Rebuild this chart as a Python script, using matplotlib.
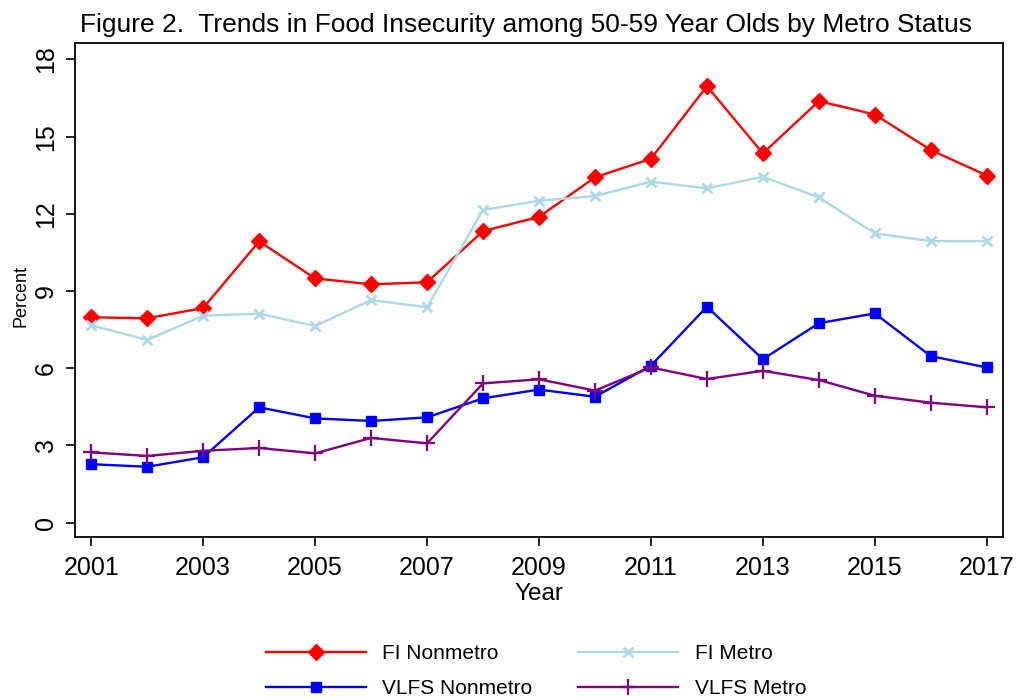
import matplotlib
matplotlib.use("Agg")
import matplotlib.pyplot as plt

plt.rcParams['font.family'] = ['Liberation Sans', 'DejaVu Sans']

years = list(range(2001, 2018))

fi_nonmetro = [7.98, 7.94, 8.34, 10.93, 9.49, 9.26, 9.34, 11.33, 11.88, 13.42,
               14.14, 16.96, 14.35, 16.38, 15.86, 14.48, 13.49]
fi_metro = [7.67, 7.10, 8.04, 8.12, 7.64, 8.65, 8.37, 12.15, 12.51, 12.69,
            13.25, 12.99, 13.44, 12.64, 11.24, 10.94, 10.94]
vlfs_nonmetro = [2.27, 2.17, 2.54, 4.48, 4.05, 3.95, 4.09, 4.83, 5.17, 4.89,
                 6.10, 8.39, 6.35, 7.75, 8.13, 6.47, 6.03]
vlfs_metro = [2.73, 2.59, 2.79, 2.90, 2.69, 3.29, 3.08, 5.41, 5.57, 5.13,
              6.03, 5.58, 5.90, 5.54, 4.93, 4.66, 4.48]

xticks = list(range(2001, 2018, 2))
yticks = [0, 3, 6, 9, 12, 15, 18]

fig = plt.figure(figsize=(10.19, 6.98), dpi=100)
ax = fig.add_axes([75 / 1019, 1 - 537 / 698, 928 / 1019, 494 / 698])

l1, = ax.plot(years, fi_nonmetro, color='red', marker='D', markersize=8, lw=1.7,
              label='FI Nonmetro')
l2, = ax.plot(years, fi_metro, color='#ADD8E6', marker='x', markersize=7, mew=2,
              lw=1.7, label='FI Metro')
l3, = ax.plot(years, vlfs_nonmetro, color='blue', marker='s', markersize=7.5, lw=1.7,
              label='VLFS Nonmetro')
l4, = ax.plot(years, vlfs_metro, color='purple', marker='+', markersize=11, mew=1.6,
              lw=1.7, label='VLFS Metro')

ax.set_xlim(2000.71, 2017.29)
ax.set_ylim(-0.56, 18.64)
ax.set_xticks(xticks)
ax.set_yticks(yticks)
ax.tick_params(axis='both', labelsize=18, length=6.5, width=1.2, direction='out')
ax.tick_params(axis='x', pad=7)
ax.tick_params(axis='y', pad=6)
plt.setp(ax.get_yticklabels(), rotation=90, va='center')
for s in ax.spines.values():
    s.set_linewidth(1.3)

ax.set_xlabel('Year', fontsize=17.5, labelpad=2)
ax.set_ylabel('Percent', fontsize=13, labelpad=3, y=0.488)
ax.set_title('Figure 2.  Trends in Food Insecurity among 50-59 Year Olds by Metro Status',
             fontsize=19, pad=8, x=0.4865)

fig.legend(handles=[l1, l3, l2, l4], ncol=2, loc='center',
           bbox_to_anchor=(536 / 1019, 1 - 671 / 698), frameon=False,
           fontsize=15, handlelength=4.8, columnspacing=2.2, labelspacing=0.75,
           handletextpad=0.8)

fig.savefig('out.png', dpi=100)
